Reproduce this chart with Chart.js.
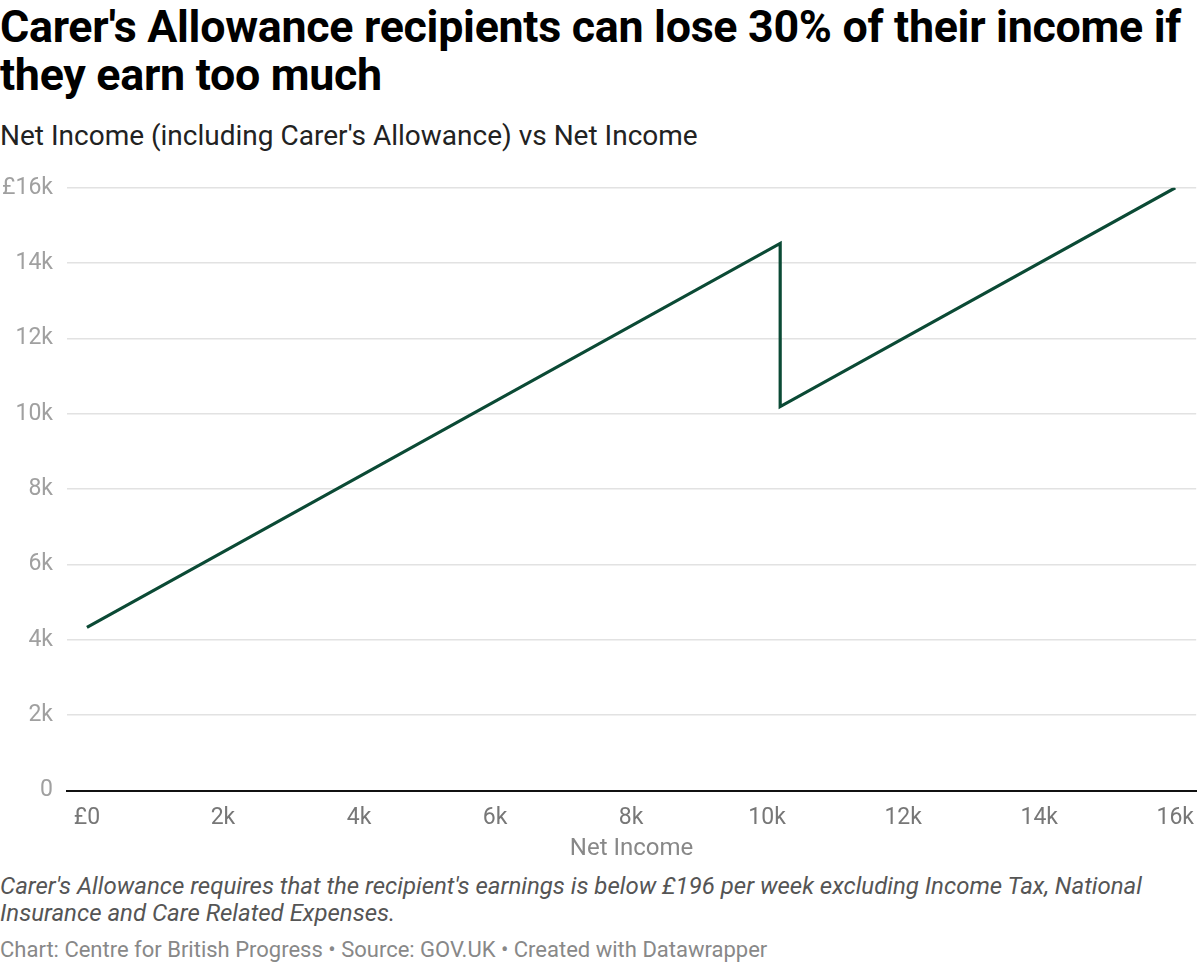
<!DOCTYPE html>
<html>
<head>
<meta charset="utf-8">
<script src="https://cdn.jsdelivr.net/npm/chart.js@4"></script>
<style>
  body { margin: 0; background: #fff; font-family: Roboto, sans-serif; width: 1200px; height: 964px; overflow: hidden; position: relative; }
  #title { position: absolute; left: 0; top: 3px; width: 1200px; font-size: 44.8px; font-weight: 700; line-height: 48px; color: #000; letter-spacing: -0.3px; }
  #subtitle { position: absolute; left: 0; top: 119px; font-size: 28px; color: #222; }
  #wrap { position: absolute; left: 0; top: 160px; width: 1200px; height: 703px; }
  #note { position: absolute; left: 0; top: 873px; width: 1200px; font-size: 24px; font-style: italic; color: #555; line-height: 27px; }
  #footer { position: absolute; left: 0; top: 937px; font-size: 22px; color: #888; }
</style>
</head>
<body>
<div id="title">Carer's Allowance recipients can lose 30% of their income if they earn too much</div>
<div id="subtitle">Net Income (including Carer's Allowance) vs Net Income</div>
<div id="wrap"><canvas id="lineChart"></canvas></div>
<div id="note">Carer's Allowance requires that the recipient's earnings is below £196 per week excluding Income Tax, National Insurance and Care Related Expenses.</div>
<div id="footer">Chart: Centre for British Progress • Source: GOV.UK • Created with Datawrapper</div>

<script>
"use strict"

// net income (earnings) vs net income incl. carer's allowance
const netIncome = [0, 10192, 10192, 16000];
const netWithAllowance = [4331, 14523, 10192, 16000];

const xTicks = [0, 2000, 4000, 6000, 8000, 10000, 12000, 14000, 16000];
const yTicks = [0, 2000, 4000, 6000, 8000, 10000, 12000, 14000, 16000];

function fmtK(v) {
    return v === 0 ? "0" : (v / 1000) + "k";
}

const points = netIncome.map((x, i) => ({ x: x, y: netWithAllowance[i] }));

const canvas = document.getElementById('lineChart');
const ctx = canvas.getContext('2d');

new Chart(ctx, {
    type: 'line',
    data: {
        datasets: [{
            label: 'Net Income (including Carer\'s Allowance)',
            data: points,
            borderColor: '#0b4a35',
            borderWidth: 3.2,
            pointRadius: 0,
            tension: 0,
            fill: false
        }]
    },
    options: {
        responsive: true,
        maintainAspectRatio: false,
        animation: false,
        layout: { padding: { top: 4, right: 0, left: 0, bottom: 0 } },
        plugins: {
            legend: { display: false },
            tooltip: { enabled: false }
        },
        scales: {
            x: {
                type: 'linear',
                min: -293,
                max: 16308,
                afterBuildTicks: scale => { scale.ticks = xTicks.map(v => ({ value: v })); },
                grid: { display: false },
                border: { display: true, color: '#111', width: 2 },
                ticks: {
                    color: '#777',
                    font: { family: 'Roboto', size: 23 },
                    padding: 6,
                    maxRotation: 0,
                    callback: v => v === 0 ? "£0" : fmtK(v)
                },
                title: {
                    display: true,
                    text: 'Net Income',
                    color: '#888',
                    font: { family: 'Roboto', size: 24 },
                    padding: { top: -4, bottom: 0 }
                }
            },
            y: {
                min: 0,
                max: 16000,
                afterBuildTicks: scale => { scale.ticks = yTicks.map(v => ({ value: v })); },
                afterFit: scale => { scale.width = 67; },
                grid: { color: '#e2e2e2', lineWidth: 1.5, drawTicks: false },
                border: { display: false },
                ticks: {
                    color: '#a0a0a0',
                    font: { family: 'Roboto', size: 23 },
                    padding: 14,
                    callback: v => v === 16000 ? "£16k" : fmtK(v)
                }
            }
        }
    }
});
</script>
</body>
</html>
